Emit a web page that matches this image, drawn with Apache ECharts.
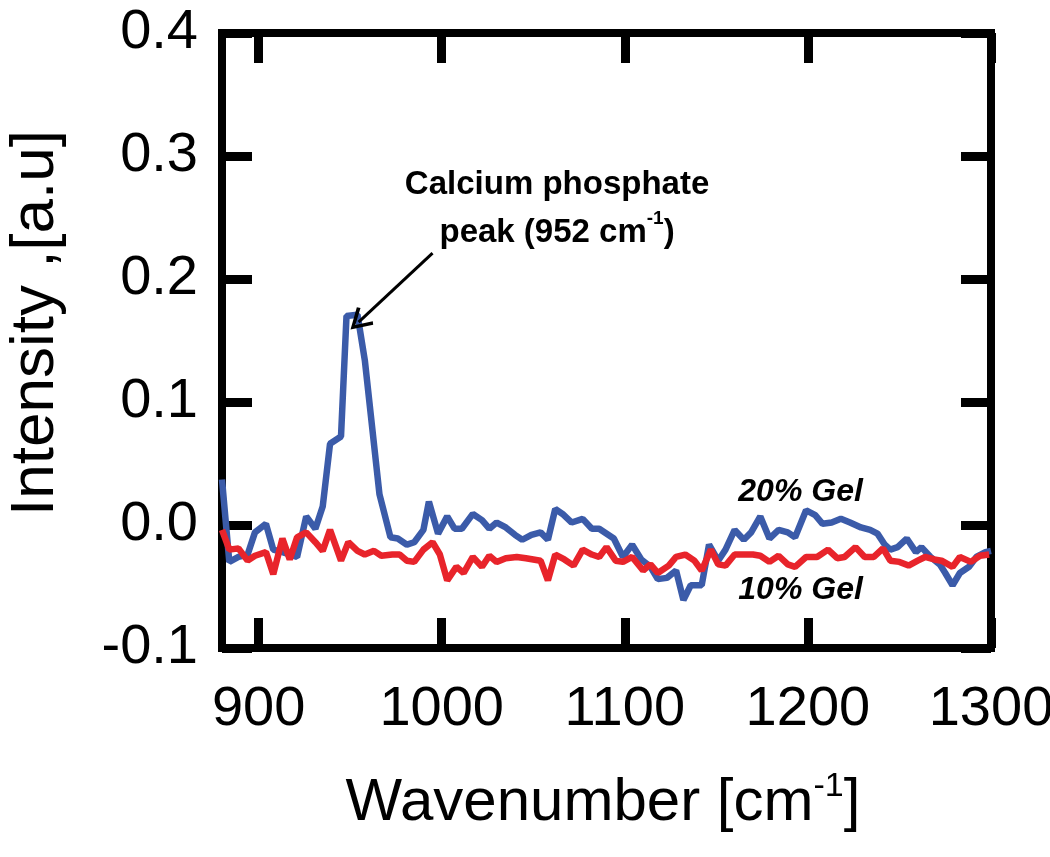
<!DOCTYPE html>
<html>
<head>
<meta charset="utf-8">
<script src="https://cdn.jsdelivr.net/npm/echarts@6/dist/echarts.min.js"></script>
<style>
html,body{margin:0;padding:0;background:#fff;}
#chart{width:1050px;height:857px;}
</style>
</head>
<body>
<div id="chart"></div>
<script>
// ---- data ----
const xTickValues = [900, 1000, 1100, 1200, 1300];
const wn20 = [880,884,889,894,898,904,908,913,917,921,926,931,935,939,945,948,954,958,966,972,976,981,985,990,993,998,1003,1007,1011,1017,1022,1026,1030,1035,1040,1044,1049,1054,1058,1062,1066,1071,1077,1082,1086,1094,1099,1104,1109,1114,1118,1123,1128,1132,1136,1142,1146,1151,1155,1160,1165,1169,1174,1179,1184,1189,1193,1199,1204,1208,1213,1218,1223,1229,1234,1238,1242,1245,1249,1254,1259,1262,1267,1272,1275,1279,1283,1288,1292,1297,1300];
const int20 = [0.037,-0.030,-0.026,-0.024,-0.006,0.001,-0.020,-0.022,-0.024,-0.026,0.007,-0.003,0.015,0.066,0.072,0.170,0.171,0.134,0.025,-0.010,-0.011,-0.016,-0.014,-0.004,0.019,-0.007,0.007,-0.003,-0.003,0.009,0.004,-0.003,0.002,-0.002,-0.008,-0.012,-0.008,-0.006,-0.012,0.013,0.009,0.002,0.005,-0.003,-0.003,-0.011,-0.026,-0.016,-0.028,-0.034,-0.044,-0.043,-0.037,-0.061,-0.049,-0.049,-0.016,-0.029,-0.020,-0.004,-0.012,-0.006,0.007,-0.011,-0.004,-0.006,-0.010,0.012,0.008,0.001,0.002,0.005,0.002,-0.002,-0.004,-0.007,-0.016,-0.020,-0.018,-0.011,-0.022,-0.018,-0.026,-0.032,-0.039,-0.049,-0.039,-0.034,-0.026,-0.022,-0.021];
const wn10 = [880,884,889,894,898,904,908,913,917,921,926,931,935,939,945,949,954,958,963,967,973,977,981,985,990,995,999,1003,1008,1012,1017,1022,1026,1030,1035,1041,1046,1054,1058,1062,1067,1072,1077,1082,1086,1090,1095,1099,1104,1110,1114,1118,1124,1128,1133,1138,1142,1147,1151,1155,1160,1165,1170,1174,1179,1184,1189,1193,1199,1205,1211,1216,1220,1226,1231,1236,1241,1245,1250,1255,1260,1264,1269,1273,1279,1283,1289,1294,1299];
const int10 = [-0.004,-0.020,-0.019,-0.029,-0.025,-0.022,-0.040,-0.011,-0.028,-0.010,-0.006,-0.014,-0.021,-0.004,-0.029,-0.014,-0.021,-0.024,-0.021,-0.025,-0.024,-0.024,-0.029,-0.030,-0.020,-0.014,-0.024,-0.045,-0.034,-0.039,-0.026,-0.034,-0.025,-0.030,-0.027,-0.026,-0.027,-0.029,-0.045,-0.024,-0.028,-0.033,-0.020,-0.024,-0.026,-0.018,-0.029,-0.030,-0.026,-0.037,-0.032,-0.039,-0.033,-0.026,-0.024,-0.029,-0.037,-0.020,-0.032,-0.033,-0.024,-0.024,-0.024,-0.025,-0.030,-0.025,-0.032,-0.034,-0.026,-0.026,-0.020,-0.027,-0.026,-0.018,-0.026,-0.026,-0.019,-0.029,-0.030,-0.033,-0.029,-0.026,-0.028,-0.029,-0.034,-0.026,-0.030,-0.025,-0.024];
const peakArrow = [[995, 0.221], [954.6, 0.165]];
const peakLabelPos = [1063, 0.257];
const label20Pos = [1196, 0.027];
const label10Pos = [1196, -0.053];

const pairs = (xs, ys) => xs.map((x, i) => [x, ys[i]]);
const FONT = '"Liberation Sans", Arial, sans-serif';

const chart = echarts.init(document.getElementById('chart'), null, {renderer: 'canvas'});

const tickStyle = {show: true, inside: true, length: 30, lineStyle: {color: '#000', width: 9}};
const noLine = {show: false, onZero: false};

const option = {
  backgroundColor: '#fff',
  animation: false,
  grid: {left: 222, right: 59, top: 33, bottom: 209, outerBoundsMode: 'none', containLabel: false,
         show: true, borderColor: '#000', borderWidth: 8, backgroundColor: 'transparent'},
  xAxis: [
    {type: 'value', min: 880, max: 1300, position: 'bottom',
     axisLine: noLine, splitLine: {show: false},
     axisTick: Object.assign({customValues: xTickValues}, tickStyle),
     axisLabel: {customValues: xTickValues, margin: 34, fontSize: 56, color: '#000', fontFamily: FONT, formatter: v => String(v)}},
    {type: 'value', min: 880, max: 1300, position: 'top',
     axisLine: noLine, splitLine: {show: false},
     axisTick: Object.assign({customValues: xTickValues}, tickStyle),
     axisLabel: {show: false}}
  ],
  yAxis: [
    {type: 'value', min: -0.1, max: 0.4, interval: 0.1, position: 'left',
     axisLine: noLine, splitLine: {show: false},
     axisTick: tickStyle,
     axisLabel: {margin: 24, fontSize: 56, color: '#000', fontFamily: FONT, formatter: v => v.toFixed(1)}},
    {type: 'value', min: -0.1, max: 0.4, interval: 0.1, position: 'right',
     axisLine: noLine, splitLine: {show: false},
     axisTick: tickStyle, axisLabel: {show: false}}
  ],
  graphic: [
    {type: 'text', x: 36, y: 323, rotation: Math.PI / 2,
     style: {text: 'Intensity ,[a.u]', font: '62px ' + FONT, fill: '#000', align: 'center', verticalAlign: 'middle'}},
    {type: 'text', x: 603, y: 803,
     style: {text: '{t|Wavenumber [cm}{s|-1}{t|]}', align: 'center', verticalAlign: 'middle',
       rich: {t: {fontSize: 60, fontFamily: FONT, fill: '#000', color: '#000', lineHeight: 66},
              s: {fontSize: 34, fontFamily: FONT, color: '#000', verticalAlign: 'top', lineHeight: 40}}}}
  ],
  series: [
    {name: '20% Gel', type: 'line', data: pairs(wn20, int20), showSymbol: false, symbol: 'none',
     lineStyle: {color: '#3b5ba9', width: 6.5}, itemStyle: {color: '#3b5ba9'}, z: 3,
     markLine: {silent: true, symbol: ['none', 'path://M12,0 L24,18 L21,20 L12,6 L3,20 L0,18 Z'], symbolSize: [24, 22],
       lineStyle: {color: '#000', width: 3, type: 'solid'}, itemStyle: {color: '#000'}, label: {show: false},
       data: [[{coord: peakArrow[0]}, {coord: peakArrow[1]}]]},
     markPoint: {silent: true, symbol: 'circle', symbolSize: 0,
       data: [
         {coord: peakLabelPos, label: {show: true, position: 'inside',
           formatter: '{b|Calcium phosphate}\n{b|peak (952 cm}{s|-1}{b|)}',
           rich: {b: {fontSize: 33, fontWeight: 'bold', fontFamily: FONT, color: '#000', lineHeight: 48},
                  s: {fontSize: 19, fontWeight: 'bold', fontFamily: FONT, color: '#000', verticalAlign: 'top', lineHeight: 34}}}},
         {coord: label20Pos, label: {show: true, position: 'inside', formatter: '20% Gel',
           fontSize: 32, fontWeight: 'bold', fontStyle: 'italic', fontFamily: FONT, color: '#000'}}
       ]}},
    {name: '10% Gel', type: 'line', data: pairs(wn10, int10), showSymbol: false, symbol: 'none',
     lineStyle: {color: '#e8242b', width: 6.5}, itemStyle: {color: '#e8242b'}, z: 4,
     markPoint: {silent: true, symbol: 'circle', symbolSize: 0,
       data: [
         {coord: label10Pos, label: {show: true, position: 'inside', formatter: '10% Gel',
           fontSize: 32, fontWeight: 'bold', fontStyle: 'italic', fontFamily: FONT, color: '#000'}}
       ]}}
  ]
};
chart.setOption(option);
</script>
</body>
</html>
